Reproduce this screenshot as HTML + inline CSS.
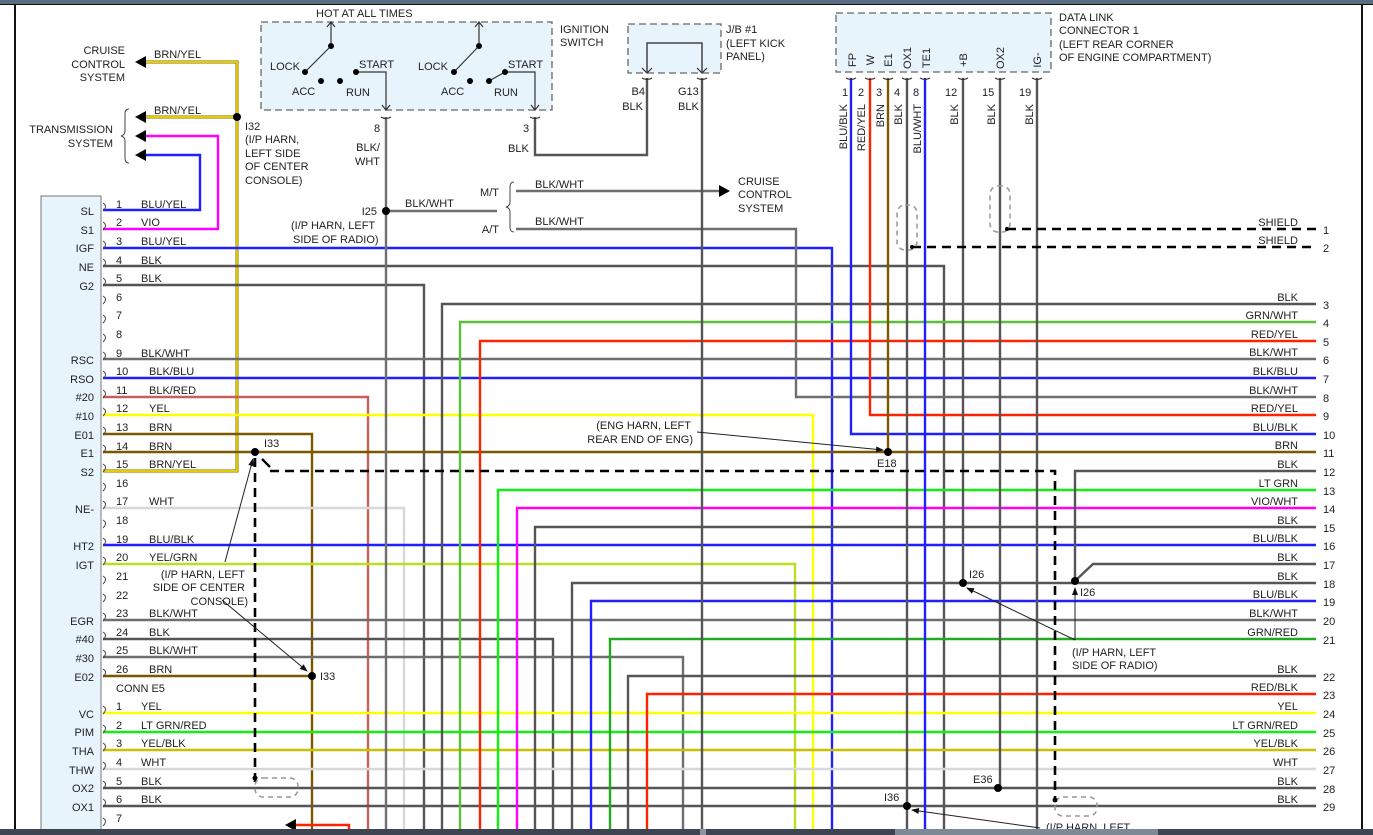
<!DOCTYPE html>
<html><head><meta charset="utf-8"><style>
html,body{margin:0;padding:0;background:#fff;width:1373px;height:835px;overflow:hidden}
svg{display:block}
text{font-family:"Liberation Sans",sans-serif;font-size:11px;fill:#222}
.w{fill:none;stroke-width:2.4}
.k{stroke:#555}.kw{stroke:#6e6e6e}.b{stroke:#1f1fff}.y{stroke:#ffff00}.v{stroke:#ff00ff}.n{stroke:#7a5800}
.r{stroke:#ff2200}.g{stroke:#5cbf3a}.lg{stroke:#11ee11}.wh{stroke:#d8d8d8}.yg{stroke:#b8e020}.yb{stroke:#c8c000}
.gr{stroke:#22aa22}.ny{stroke:#8a6a00;stroke-width:3}.nyc{stroke:#ffee00;stroke-width:1.4;fill:none}.kr{stroke:#c8605a}
.dash{fill:none;stroke:#000;stroke-width:2.6;stroke-dasharray:9,6}
.cyl{fill:none;stroke:#999;stroke-width:1.5;stroke-dasharray:5,4}
.thin{fill:none;stroke:#222;stroke-width:1}
.br{fill:none;stroke:#444;stroke-width:1}
</style></head><body>
<svg width="1373" height="835" viewBox="0 0 1373 835">
<defs><marker id="ah" markerWidth="8" markerHeight="8" refX="7" refY="4" orient="auto"><path d="M0,1 L8,4 L0,7 z" fill="#111"/></marker></defs>
<rect x="0" y="0" width="1373" height="4" fill="#5a6e82"/>
<line x1="0" y1="4.5" x2="1373" y2="4.5" stroke="#111" stroke-width="1"/>
<line x1="15" y1="5" x2="15" y2="829" stroke="#111" stroke-width="2"/>
<line x1="1362" y1="5" x2="1362" y2="829" stroke="#111" stroke-width="2"/>

<rect x="41" y="196" width="60" height="640" fill="#e8f4fc" stroke="#777" stroke-width="1"/>
<rect x="261" y="22" width="291" height="88" fill="#e8f4fc" stroke="#666" stroke-width="1.3" stroke-dasharray="7,4"/>
<rect x="628" y="24" width="93" height="49" fill="#e8f4fc" stroke="#666" stroke-width="1.3" stroke-dasharray="7,4"/>
<rect x="836" y="13" width="215" height="59" fill="#e8f4fc" stroke="#666" stroke-width="1.3" stroke-dasharray="7,4"/>

<polyline class="w ny" points="145,62 237,62 237,471 103,471"/>
<polyline class="w ny" points="145,117 237,117"/>
<polyline class="nyc" points="145,62 237,62 237,471 103,471"/>
<polyline class="nyc" points="145,117 237,117"/>
<polyline class="w b" points="145,155 200,155 200,210 103,210"/>
<polyline class="w v" points="145,136 218,136 218,229 103,229"/>
<polyline class="w b" points="103,248 832,248 832,829"/>
<polyline class="w k" points="103,266 944,266 944,829"/>
<polyline class="w k" points="103,285 424,285 424,829"/>
<polyline class="w kw" points="103,359 1316,359"/>
<polyline class="w b" points="103,378 1316,378"/>
<polyline class="w kr" points="103,397 368,397 368,829"/>
<polyline class="w y" points="103,415 813,415 813,829"/>
<polyline class="w n" points="103,434 312,434 312,829"/>
<polyline class="w n" points="103,452 1316,452"/>
<polyline class="w wh" points="103,508 404,508 404,829"/>
<polyline class="w b" points="103,545 1316,545"/>
<polyline class="w yg" points="103,564 795,564 795,829"/>
<polyline class="w kw" points="103,620 1316,620"/>
<polyline class="w k" points="103,639 553,639 553,829"/>
<polyline class="w kw" points="103,657 683,657 683,829"/>
<polyline class="w n" points="103,676 312,676"/>
<polyline class="w y" points="103,713 1316,713"/>
<polyline class="w lg" points="103,732 1316,732"/>
<polyline class="w yb" points="103,750 1316,750"/>
<polyline class="w wh" points="103,769 1316,769"/>
<polyline class="w k" points="103,788 1316,788"/>
<polyline class="w k" points="103,806 1316,806"/>
<polyline class="w r" points="295,825 349,825 349,829"/>
<path d="M285,825 L296,819 L296,831 z" fill="#000"/>

<polyline class="w k" points="442,829 442,304 1316,304"/>
<polyline class="w g" points="460,829 460,322 1316,322"/>
<polyline class="w r" points="480,829 480,341 1316,341"/>
<polyline class="w lg" points="498,829 498,490 1316,490"/>
<polyline class="w v" points="517,829 517,508 1316,508"/>
<polyline class="w k" points="535,829 535,527 1316,527"/>
<polyline class="w k" points="572,829 572,583 1316,583"/>
<polyline class="w b" points="591,829 591,601 1316,601"/>
<polyline class="w gr" points="610,829 610,639 1316,639"/>
<polyline class="w k" points="628,829 628,676 1316,676"/>
<polyline class="w r" points="647,829 647,694 1316,694"/>
<polyline class="w kw" points="516,229 796,229 796,397 1316,397"/>
<polyline class="w r" points="870,78 870,415 1316,415"/>
<polyline class="w b" points="851,78 851,434 1316,434"/>
<polyline class="w n" points="888,78 888,452"/>
<polyline class="w k" points="907,78 907,829"/>
<polyline class="w b" points="925,78 925,829"/>
<polyline class="w k" points="963,78 963,583"/>
<polyline class="w k" points="1000,78 1000,788"/>
<polyline class="w k" points="1037,78 1037,829"/>
<polyline class="w k" points="1075,581 1075,471 1316,471"/>
<polyline class="w k" points="1075,581 1093,564 1316,564"/>

<polyline class="w kw" points="386,117 386,829"/>
<polyline class="w kw" points="386,211 497,211"/>
<polyline class="w kw" points="516,191 720,191"/>
<path d="M730,191 L719,185 L719,197 z" fill="#000"/>
<polyline class="w k" points="535,117 535,155 647,155 647,78"/>
<polyline class="w k" points="702,78 702,829"/>
<polyline class="thin" points="647,72 647,43 702,43 702,72" style="stroke:#444;stroke-width:1.5"/>

<polyline class="dash" points="1007,229 1316,229"/>
<polyline class="dash" points="912,247 1316,247"/>
<rect x="897" y="205" width="20" height="45" rx="8" class="cyl"/>
<rect x="990" y="186" width="20" height="46" rx="8" class="cyl"/>
<polyline class="dash" points="255,458 255,785"/>
<polyline class="dash" points="270,471 1055,471 1055,800"/>
<line x1="262" y1="459" x2="270" y2="467" stroke="#000" stroke-width="2.4"/>
<rect x="255" y="778" width="43" height="19" rx="8" class="cyl"/>
<rect x="1055" y="797" width="42" height="19" rx="8" class="cyl"/>

<path d="M135,62 L146,56 L146,68 z M135,117 L146,111 L146,123 z M135,136 L146,130 L146,142 z M135,155 L146,149 L146,161 z" fill="#000"/>
<path d="M129,109 q-4,0 -4,5 v17 q0,4 -4,5 q4,1 4,5 v17 q0,5 4,5" class="br"/>
<path d="M514,182 q-4,0 -4,5 v15 q0,4 -4,5 q4,1 4,5 v15 q0,5 4,5" class="br"/>

<g stroke="#333" stroke-width="1.2" fill="none">
<path d="M331,46 V22 M327,27 L331,22 L335,27 M479,46 V22 M475,27 L479,22 L483,27"/>
<path d="M331,46 L305,72 M479,46 L454,72 M489,81 L505,72"/>
<path d="M356,72 H386 V110 M382,105 L386,110 L390,105 M505,72 H535 V110 M531,105 L535,110 L539,105"/>
<path d="M381,117 q5,3 10,0 M530,117 q5,3 10,0 M642,78 q5,3 10,0 M697,78 q5,3 10,0 M642,68 L647,73 L652,68 M697,68 L702,73 L707,68"/>
<path d="M846,78 q5,3 10,0 M865,78 q5,3 10,0 M883,78 q5,3 10,0 M902,78 q5,3 10,0 M920,78 q5,3 10,0 M958,78 q5,3 10,0 M995,78 q5,3 10,0 M1032,78 q5,3 10,0"/>
</g>
<g fill="#000">
<circle cx="331" cy="46" r="3"/><circle cx="305" cy="72" r="3"/><circle cx="321" cy="81" r="3"/><circle cx="340" cy="81" r="3"/><circle cx="356" cy="72" r="3"/>
<circle cx="479" cy="46" r="3"/><circle cx="454" cy="72" r="3"/><circle cx="470" cy="81" r="3"/><circle cx="489" cy="81" r="3"/><circle cx="505" cy="72" r="3"/>
<circle cx="237" cy="117" r="4"/><circle cx="386" cy="211" r="4"/><circle cx="888" cy="452" r="4"/>
<circle cx="255" cy="452" r="4"/><circle cx="312" cy="676" r="4"/><circle cx="963" cy="583" r="4"/><circle cx="1075" cy="581" r="4"/>
<circle cx="998" cy="788" r="4"/><circle cx="907" cy="806" r="4"/><circle cx="255" cy="778" r="2.5"/><circle cx="1055" cy="800" r="2.5"/>
<circle cx="1007" cy="229" r="2"/><circle cx="912" cy="247" r="2"/>
</g>

<g class="thin" marker-end="url(#ah)">
<line x1="697" y1="432" x2="883" y2="450"/>
<line x1="225" y1="562" x2="253" y2="459"/>
<line x1="222" y1="600" x2="307" y2="671"/>
<line x1="1075" y1="640" x2="967" y2="588"/>
<line x1="1075" y1="640" x2="1075" y2="588"/>
<line x1="1040" y1="828" x2="912" y2="810"/>
</g>

<g class="br" stroke-width="0.9">
<path d="M103,203 q5,3 0,8 M103,222 q5,3 0,8 M103,241 q5,3 0,8 M103,259 q5,3 0,8 M103,278 q5,3 0,8 M103,296 q5,3 0,8 M103,315 q5,3 0,8 M103,334 q5,3 0,8 M103,352 q5,3 0,8 M103,371 q5,3 0,8 M103,390 q5,3 0,8 M103,408 q5,3 0,8 M103,427 q5,3 0,8 M103,445 q5,3 0,8 M103,464 q5,3 0,8 M103,483 q5,3 0,8 M103,501 q5,3 0,8 M103,520 q5,3 0,8 M103,538 q5,3 0,8 M103,557 q5,3 0,8 M103,576 q5,3 0,8 M103,594 q5,3 0,8 M103,613 q5,3 0,8 M103,632 q5,3 0,8 M103,650 q5,3 0,8 M103,669 q5,3 0,8 M103,706 q5,3 0,8 M103,725 q5,3 0,8 M103,743 q5,3 0,8 M103,762 q5,3 0,8 M103,781 q5,3 0,8 M103,799 q5,3 0,8 M103,818 q5,3 0,8"/>
</g>

<g text-anchor="end">
<text x="94" y="215">SL</text><text x="94" y="234">S1</text><text x="94" y="252">IGF</text><text x="94" y="271">NE</text><text x="94" y="290">G2</text>
<text x="94" y="364">RSC</text><text x="94" y="383">RSO</text><text x="94" y="401">#20</text><text x="94" y="420">#10</text><text x="94" y="439">E01</text>
<text x="94" y="457">E1</text><text x="94" y="476">S2</text><text x="94" y="513">NE-</text><text x="94" y="550">HT2</text><text x="94" y="569">IGT</text>
<text x="94" y="625">EGR</text><text x="94" y="643">#40</text><text x="94" y="662">#30</text><text x="94" y="681">E02</text>
<text x="94" y="718">VC</text><text x="94" y="736">PIM</text><text x="94" y="755">THA</text><text x="94" y="774">THW</text><text x="94" y="792">OX2</text><text x="94" y="811">OX1</text>
</g>
<g>
<text x="116" y="208">1</text><text x="141" y="208">BLU/YEL</text>
<text x="116" y="226">2</text><text x="141" y="226">VIO</text>
<text x="116" y="245">3</text><text x="141" y="245">BLU/YEL</text>
<text x="116" y="264">4</text><text x="141" y="264">BLK</text>
<text x="116" y="282">5</text><text x="141" y="282">BLK</text>
<text x="116" y="301">6</text><text x="116" y="319">7</text><text x="116" y="338">8</text>
<text x="116" y="357">9</text><text x="141" y="357">BLK/WHT</text>
<text x="116" y="375">10</text><text x="149" y="375">BLK/BLU</text>
<text x="116" y="394">11</text><text x="149" y="394">BLK/RED</text>
<text x="116" y="412">12</text><text x="149" y="412">YEL</text>
<text x="116" y="431">13</text><text x="149" y="431">BRN</text>
<text x="116" y="450">14</text><text x="149" y="450">BRN</text>
<text x="116" y="468">15</text><text x="149" y="468">BRN/YEL</text>
<text x="116" y="487">16</text>
<text x="116" y="505">17</text><text x="149" y="505">WHT</text>
<text x="116" y="524">18</text>
<text x="116" y="543">19</text><text x="149" y="543">BLU/BLK</text>
<text x="116" y="561">20</text><text x="149" y="561">YEL/GRN</text>
<text x="116" y="580">21</text><text x="116" y="599">22</text>
<text x="116" y="617">23</text><text x="149" y="617">BLK/WHT</text>
<text x="116" y="636">24</text><text x="149" y="636">BLK</text>
<text x="116" y="654">25</text><text x="149" y="654">BLK/WHT</text>
<text x="116" y="673">26</text><text x="149" y="673">BRN</text>
<text x="116" y="692">CONN E5</text>
<text x="116" y="710">1</text><text x="141" y="710">YEL</text>
<text x="116" y="729">2</text><text x="141" y="729">LT GRN/RED</text>
<text x="116" y="747">3</text><text x="141" y="747">YEL/BLK</text>
<text x="116" y="766">4</text><text x="141" y="766">WHT</text>
<text x="116" y="785">5</text><text x="141" y="785">BLK</text>
<text x="116" y="803">6</text><text x="141" y="803">BLK</text>
<text x="116" y="822">7</text>
</g>

<g text-anchor="end">
<text x="1298" y="226">SHIELD</text><text x="1298" y="244">SHIELD</text>
<text x="1298" y="301">BLK</text><text x="1298" y="319">GRN/WHT</text><text x="1298" y="338">RED/YEL</text><text x="1298" y="356">BLK/WHT</text>
<text x="1298" y="375">BLK/BLU</text><text x="1298" y="394">BLK/WHT</text><text x="1298" y="412">RED/YEL</text><text x="1298" y="431">BLU/BLK</text>
<text x="1298" y="449">BRN</text><text x="1298" y="468">BLK</text><text x="1298" y="487">LT GRN</text><text x="1298" y="505">VIO/WHT</text>
<text x="1298" y="524">BLK</text><text x="1298" y="542">BLU/BLK</text><text x="1298" y="561">BLK</text><text x="1298" y="580">BLK</text>
<text x="1298" y="598">BLU/BLK</text><text x="1298" y="617">BLK/WHT</text><text x="1298" y="636">GRN/RED</text>
<text x="1298" y="673">BLK</text><text x="1298" y="691">RED/BLK</text><text x="1298" y="710">YEL</text><text x="1298" y="729">LT GRN/RED</text>
<text x="1298" y="747">YEL/BLK</text><text x="1298" y="766">WHT</text><text x="1298" y="785">BLK</text><text x="1298" y="803">BLK</text>
</g>
<g>
<text x="1323" y="234">1</text><text x="1323" y="252">2</text><text x="1323" y="309">3</text><text x="1323" y="327">4</text><text x="1323" y="346">5</text>
<text x="1323" y="364">6</text><text x="1323" y="383">7</text><text x="1323" y="402">8</text><text x="1323" y="420">9</text><text x="1323" y="439">10</text>
<text x="1323" y="457">11</text><text x="1323" y="476">12</text><text x="1323" y="495">13</text><text x="1323" y="513">14</text><text x="1323" y="532">15</text>
<text x="1323" y="550">16</text><text x="1323" y="569">17</text><text x="1323" y="588">18</text><text x="1323" y="606">19</text><text x="1323" y="625">20</text>
<text x="1323" y="644">21</text><text x="1323" y="681">22</text><text x="1323" y="699">23</text><text x="1323" y="718">24</text><text x="1323" y="737">25</text>
<text x="1323" y="755">26</text><text x="1323" y="774">27</text><text x="1323" y="793">28</text><text x="1323" y="811">29</text>
</g>

<g text-anchor="end">
<text x="125" y="54">CRUISE</text><text x="125" y="68">CONTROL</text><text x="125" y="81">SYSTEM</text>
<text x="113" y="133">TRANSMISSION</text><text x="113" y="147">SYSTEM</text>
<text x="380" y="151">BLK/</text><text x="380" y="165">WHT</text>
<text x="377" y="215">I25</text>
<text x="499" y="196">M/T</text><text x="499" y="233">A/T</text>
<text x="645" y="95">B4</text><text x="643" y="110">BLK</text>
<text x="245" y="578">(I/P HARN, LEFT</text><text x="245" y="591">SIDE OF CENTER</text><text x="248" y="605">CONSOLE)</text>
<text x="691" y="429">(ENG HARN, LEFT</text><text x="693" y="443">REAR END OF ENG)</text>
</g>
<text x="154" y="58">BRN/YEL</text><text x="154" y="114">BRN/YEL</text>
<text x="245" y="130">I32</text><text x="245" y="143">(I/P HARN,</text><text x="245" y="157">LEFT SIDE</text><text x="245" y="170">OF CENTER</text><text x="245" y="184">CONSOLE)</text>
<text x="316" y="17">HOT AT ALL TIMES</text>
<text x="270" y="70">LOCK</text><text x="292" y="95">ACC</text><text x="346" y="96">RUN</text><text x="359" y="68">START</text>
<text x="418" y="70">LOCK</text><text x="441" y="95">ACC</text><text x="494" y="96">RUN</text><text x="508" y="68">START</text>
<text x="560" y="33">IGNITION</text><text x="560" y="46">SWITCH</text>
<text x="374" y="132">8</text><text x="523" y="132">3</text><text x="508" y="152">BLK</text>
<text x="291" y="229">(I/P HARN, LEFT</text><text x="293" y="243">SIDE OF RADIO)</text>
<text x="405" y="207">BLK/WHT</text>
<text x="535" y="188">BLK/WHT</text><text x="535" y="225">BLK/WHT</text>
<text x="738" y="185">CRUISE</text><text x="738" y="198">CONTROL</text><text x="738" y="212">SYSTEM</text>
<text x="726" y="33">J/B #1</text><text x="726" y="47">(LEFT KICK</text><text x="726" y="60">PANEL)</text>
<text x="678" y="95">G13</text><text x="678" y="110">BLK</text>
<text x="1059" y="21">DATA LINK</text><text x="1059" y="34">CONNECTOR 1</text><text x="1059" y="48">(LEFT REAR CORNER</text><text x="1059" y="61">OF ENGINE COMPARTMENT)</text>
<text x="877" y="467">E18</text>
<text x="264" y="447">I33</text><text x="320" y="680">I33</text>
<text x="969" y="578">I26</text><text x="1080" y="596">I26</text>
<text x="1072" y="656">(I/P HARN, LEFT</text><text x="1072" y="669">SIDE OF RADIO)</text>
<text x="973" y="783">E36</text><text x="884" y="801">I36</text>
<text x="1046" y="831">(I/P HARN, LEFT</text>
<text x="842" y="96">1</text><text x="858" y="96">2</text><text x="876" y="96">3</text><text x="894" y="96">4</text><text x="913" y="96">8</text>
<text x="945" y="96">12</text><text x="982" y="96">15</text><text x="1019" y="96">19</text>
<g text-anchor="middle">
<text transform="translate(856,60) rotate(-90)">FP</text>
<text transform="translate(874,60) rotate(-90)">W</text>
<text transform="translate(892,60) rotate(-90)">E1</text>
<text transform="translate(911,58) rotate(-90)">OX1</text>
<text transform="translate(930,58) rotate(-90)">TE1</text>
<text transform="translate(967,60) rotate(-90)">+B</text>
<text transform="translate(1004,58) rotate(-90)">OX2</text>
<text transform="translate(1041,60) rotate(-90)">IG-</text>
</g>
<g text-anchor="end">
<text transform="translate(847,104) rotate(-90)">BLU/BLK</text>
<text transform="translate(865,104) rotate(-90)">RED/YEL</text>
<text transform="translate(884,104) rotate(-90)">BRN</text>
<text transform="translate(902,104) rotate(-90)">BLK</text>
<text transform="translate(921,104) rotate(-90)">BLU/WHT</text>
<text transform="translate(958,104) rotate(-90)">BLK</text>
<text transform="translate(995,104) rotate(-90)">BLK</text>
<text transform="translate(1033,104) rotate(-90)">BLK</text>
</g>

<rect x="0" y="829" width="1373" height="6" fill="#3d4552"/>
<rect x="700" y="829" width="6" height="6" fill="#8a95a0"/>
<rect x="895" y="829" width="263" height="6" fill="#7d8a95"/>
</svg>
</body></html>
